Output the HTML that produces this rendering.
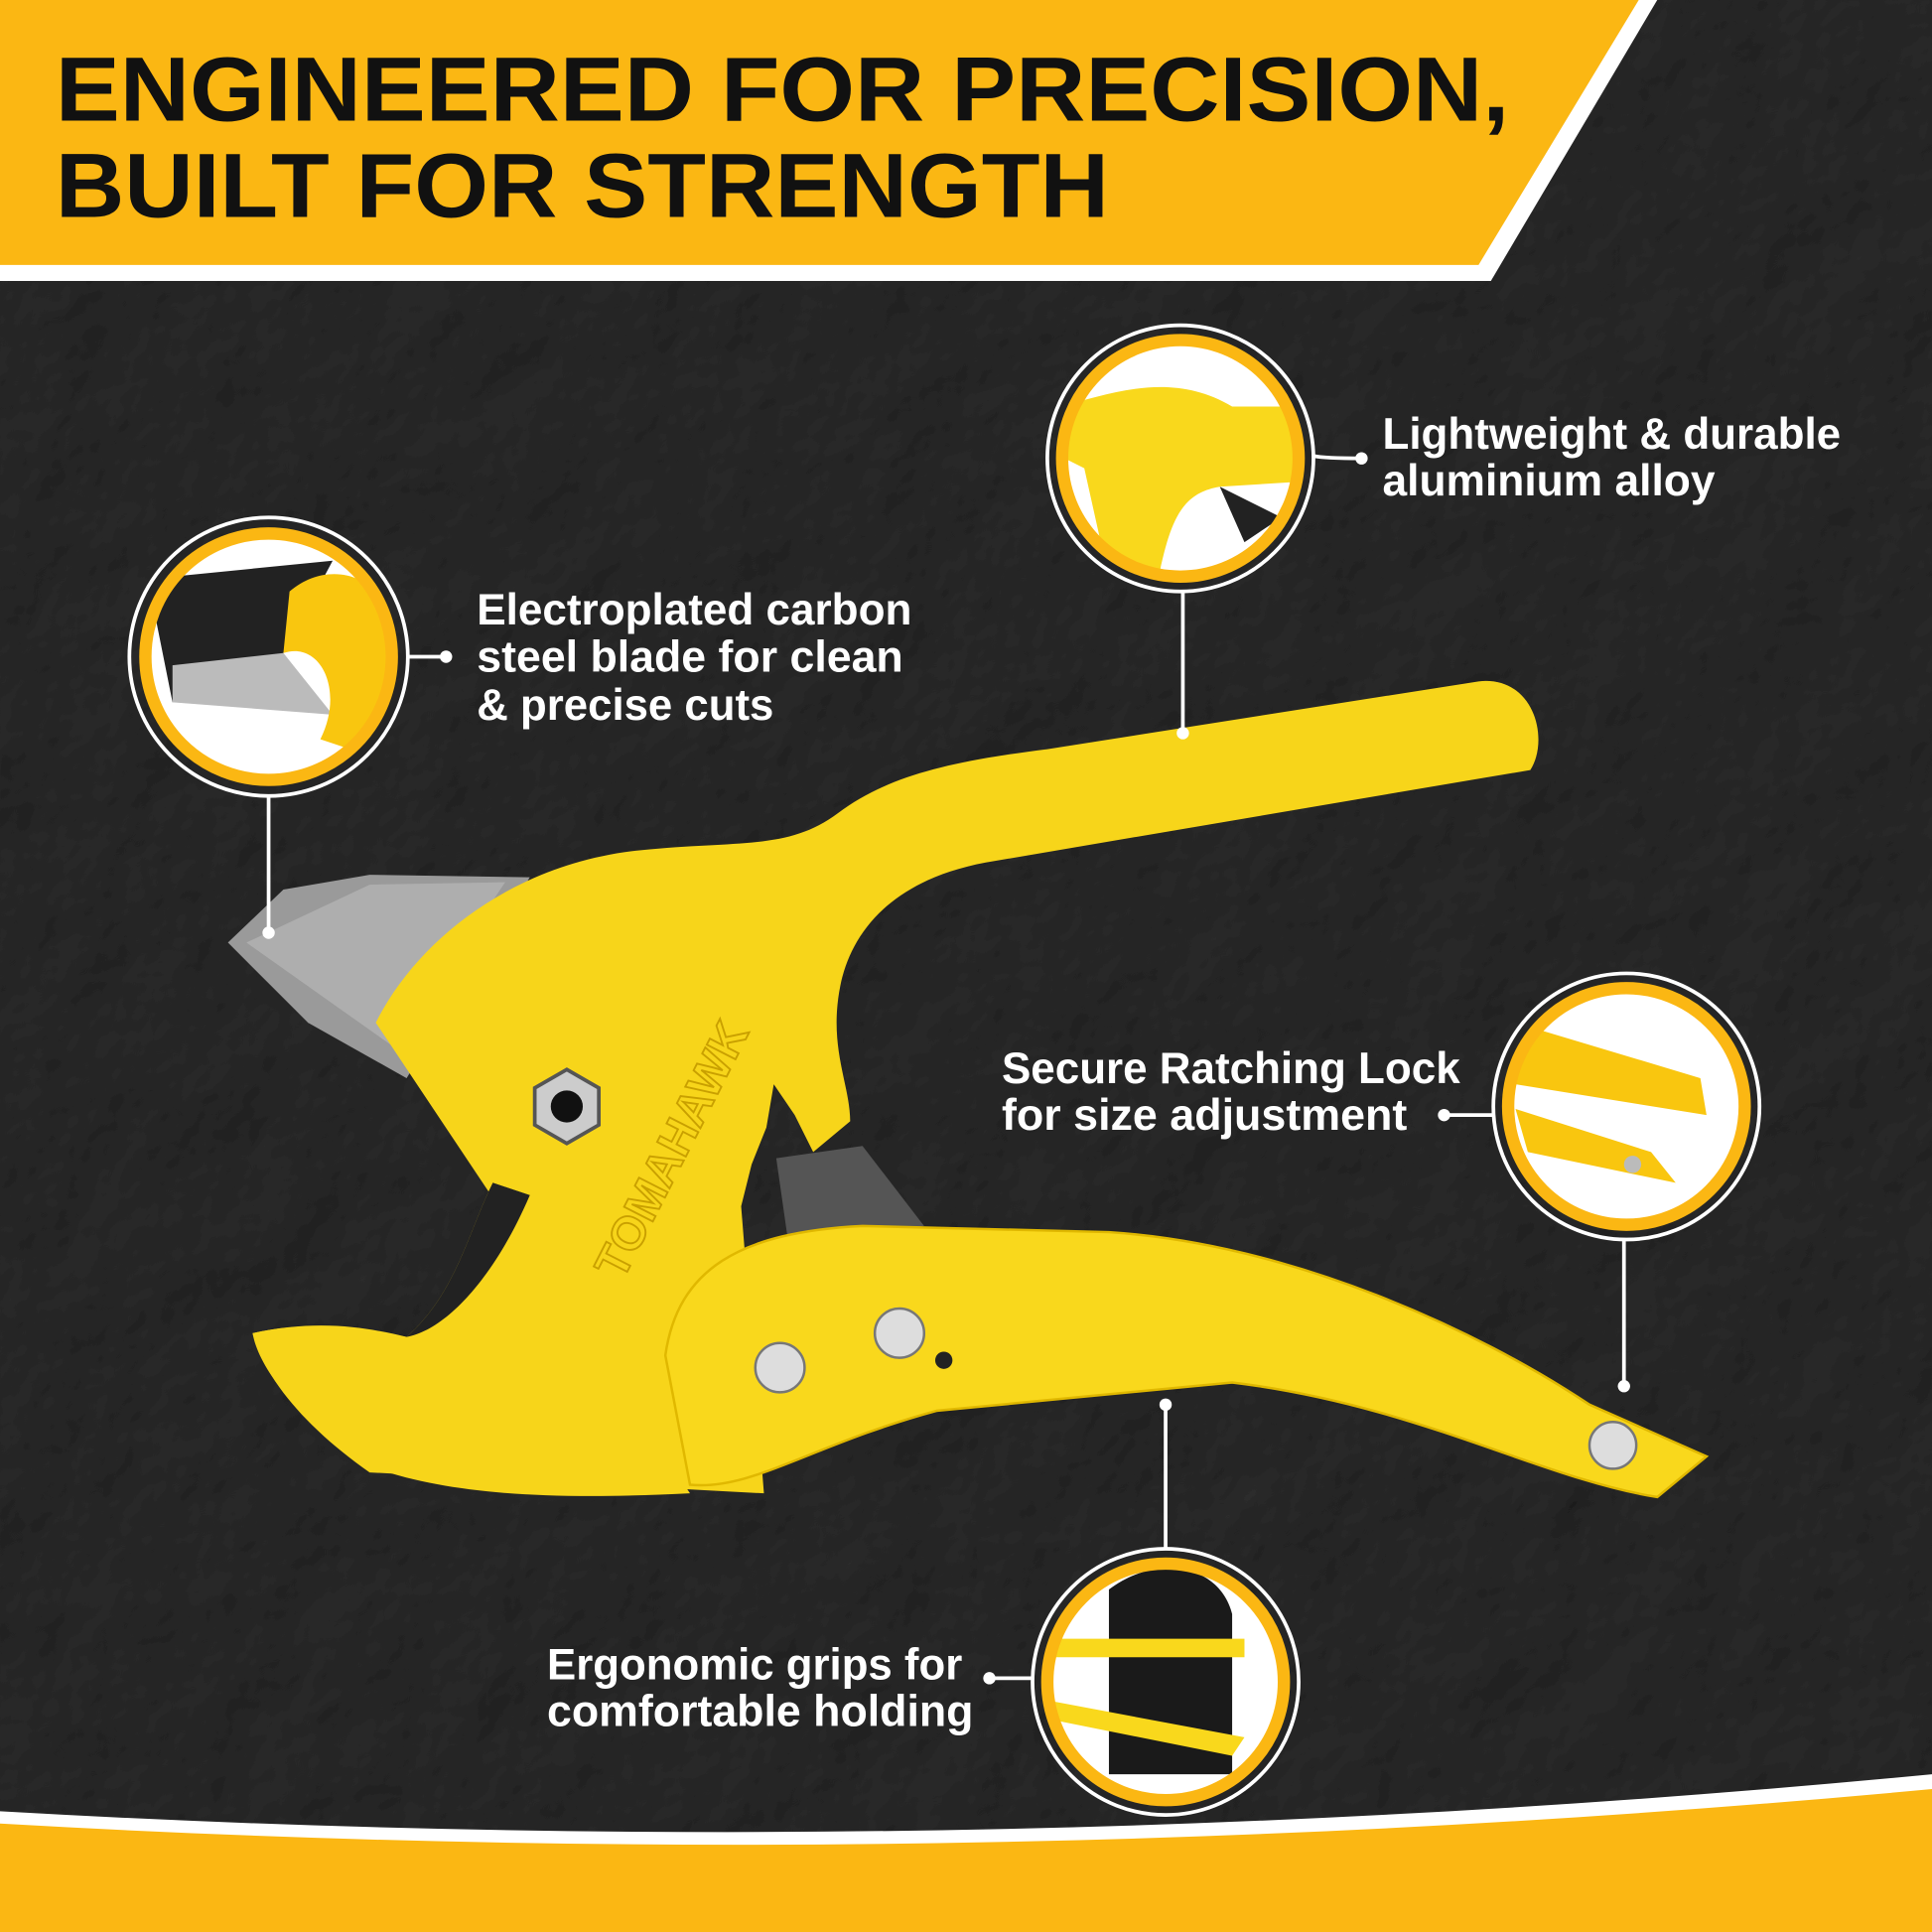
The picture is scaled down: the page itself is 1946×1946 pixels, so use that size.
<!DOCTYPE html>
<html><head><meta charset="utf-8"><style>
html,body{margin:0;padding:0;background:#1c1c1c;}
svg{display:block}
text{font-family:"Liberation Sans",sans-serif;}
</style></head><body>
<svg width="1946" height="1946" viewBox="0 0 1568 1568" xmlns="http://www.w3.org/2000/svg">
<defs>
<filter id="tex" x="0" y="0" width="100%" height="100%">
<feTurbulence type="fractalNoise" baseFrequency="0.012" numOctaves="4" seed="3" result="n"/>
<feDiffuseLighting in="n" lighting-color="#363636" surfaceScale="4" result="l"><feDistantLight azimuth="225" elevation="35"/></feDiffuseLighting>
<feComposite in="l" in2="SourceGraphic" operator="in"/>
</filter>
<clipPath id="c1"><circle cx="218" cy="533" r="96"/></clipPath>
<clipPath id="c2"><circle cx="958" cy="372" r="96"/></clipPath>
<clipPath id="c3"><circle cx="1320" cy="898" r="96"/></clipPath>
<clipPath id="c4"><circle cx="946" cy="1365" r="96"/></clipPath>
</defs>
<rect width="1568" height="1568" fill="#161616"/>
<rect width="1568" height="1568" fill="#000" filter="url(#tex)" opacity="0.95"/>
<!-- bottom band -->
<path d="M0,1470 Q784,1515 1568,1440 L1568,1568 L0,1568 Z" fill="#fff"/>
<path d="M0,1480 Q784,1525 1568,1452 L1568,1568 L0,1568 Z" fill="#fbb713"/>
<!-- top banner -->
<path d="M0,0 L1345,0 L1210,228 L0,228 Z" fill="#fff"/>
<path d="M0,0 L1330,0 L1200,215 L0,215 Z" fill="#fbb713"/>
<text x="45" y="98" font-size="74" font-weight="900" fill="#111" textLength="1180" lengthAdjust="spacingAndGlyphs">ENGINEERED FOR PRECISION,</text>
<text x="45" y="176" font-size="74" font-weight="900" fill="#111" textLength="855" lengthAdjust="spacingAndGlyphs">BUILT FOR STRENGTH</text>

<!-- tool -->
<polygon points="185,765 230,722 300,710 430,712 330,875 250,830" fill="#9a9a9a"/>
<polygon points="200,765 300,718 410,716 320,850" fill="#bdbdbd" opacity="0.6"/>
<path d="M630,940 L700,930 L750,995 L640,1010 Z" fill="#555"/>
<path d="M305,830 C340,760 420,700 520,690 C600,682 640,690 680,660 C720,630 770,618 850,608 L1200,553 C1245,548 1258,600 1242,625 L1200,632 L800,700 C720,715 690,760 682,800 C672,850 690,880 690,910 L660,935 L645,905 L628,880 L622,915 L610,945 L600,985 L560,1000 L520,1040 C480,1050 440,1050 420,1030 C400,1010 410,990 430,970 L400,960 C380,1000 370,1050 330,1085 C300,1080 260,1070 205,1082 C210,1110 240,1150 300,1190 C360,1212 440,1218 560,1212 Z" fill="#f7d51a"/>
<path d="M330,1085 C370,1075 395,1040 405,990 L600,960 L620,1212 L300,1195 C250,1160 215,1120 205,1082 C260,1070 300,1078 330,1085 Z" fill="#f7d51a"/>
<path d="M400,960 C380,1000 370,1050 330,1085 C360,1080 400,1040 430,970 Z" fill="#222"/>
<path d="M540,1100 C550,1030 600,1000 700,995 L900,1000 C1050,1010 1200,1080 1290,1140 L1385,1182 L1345,1215 C1250,1200 1150,1140 1000,1122 L760,1145 C660,1172 610,1210 560,1205 Z" fill="#f9d81c" stroke="#e0b800" stroke-width="2"/>
<g fill="#ddd" stroke="#777" stroke-width="2">
<circle cx="633" cy="1110" r="20"/><circle cx="730" cy="1082" r="20"/><circle cx="1309" cy="1173" r="19"/>
</g>
<circle cx="766" cy="1104" r="7" fill="#222"/>
<polygon points="460,868 486,883 486,913 460,928 434,913 434,883" fill="#ccc" stroke="#555" stroke-width="3"/>
<circle cx="460" cy="898" r="13" fill="#111"/>
<text x="0" y="0" font-size="38" font-weight="900" fill="#f7d51a" stroke="#c9a000" stroke-width="1.5" transform="translate(505,1040) rotate(-63)">TOMAHAWK</text>

<!-- circles -->
<g fill="none" stroke="#fff" stroke-width="3">
<circle cx="218" cy="533" r="113"/><circle cx="958" cy="372" r="108"/><circle cx="1320" cy="898" r="108"/><circle cx="946" cy="1365" r="108"/>
<path d="M331,533 L362,533"/><path d="M218,646 L218,757"/>
<path d="M1066,370 Q1075,372 1105,372"/><path d="M960,480 L960,595"/>
<path d="M1212,905 L1172,905"/><path d="M1318,1006 L1318,1125"/>
<path d="M838,1362 L803,1362"/><path d="M946,1257 L946,1140"/>
</g>
<g fill="#fff"><circle cx="362" cy="533" r="5"/><circle cx="218" cy="757" r="5"/><circle cx="1105" cy="372" r="5"/><circle cx="960" cy="595" r="5"/><circle cx="1172" cy="905" r="5"/><circle cx="1318" cy="1125" r="5"/><circle cx="803" cy="1362" r="5"/><circle cx="946" cy="1140" r="5"/></g>

<g clip-path="url(#c1)"><rect x="110" y="430" width="220" height="220" fill="#fff"/>
<polygon points="120,470 270,455 230,530 140,570" fill="#222"/><polygon points="140,540 230,530 270,580 140,570" fill="#bbb"/>
<path d="M235,480 C270,450 320,470 320,520 L320,620 L260,600 C280,560 260,520 230,530 Z" fill="#f9c60f"/></g>
<circle cx="218" cy="533" r="100" fill="none" stroke="#fbb713" stroke-width="10"/>
<g clip-path="url(#c2)"><rect x="850" y="270" width="220" height="220" fill="#fff"/>
<path d="M860,330 C900,320 950,300 1000,330 L1070,330 L1070,390 L990,395 C960,400 950,420 940,470 L900,470 L880,380 L860,370 Z" fill="#f9d81c"/>
<path d="M990,395 L1010,440 L1040,420 Z" fill="#222"/></g>
<circle cx="958" cy="372" r="96" fill="none" stroke="#fbb713" stroke-width="10"/>
<g clip-path="url(#c3)"><rect x="1210" y="790" width="220" height="220" fill="#fff"/>
<path d="M1230,830 L1380,875 L1385,905 L1230,880 Z" fill="#f9c60f"/>
<path d="M1230,900 L1340,935 L1360,960 L1240,935 Z" fill="#f9c60f"/>
<circle cx="1325" cy="945" r="7" fill="#bbb"/></g>
<circle cx="1320" cy="898" r="96" fill="none" stroke="#fbb713" stroke-width="10"/>
<g clip-path="url(#c4)"><rect x="838" y="1257" width="220" height="220" fill="#fff"/>
<path d="M900,1290 C940,1260 990,1270 1000,1310 L1000,1440 L900,1440 Z" fill="#1a1a1a"/>
<path d="M850,1330 L1010,1330 L1010,1345 L850,1345 Z" fill="#f9d81c"/>
<path d="M850,1380 L1010,1410 L1000,1425 L850,1395 Z" fill="#f9d81c"/></g>
<circle cx="946" cy="1365" r="96" fill="none" stroke="#fbb713" stroke-width="10"/>

<!-- labels -->
<g fill="#fff" font-size="36" font-weight="bold">
<text x="387" y="507" textLength="353" lengthAdjust="spacingAndGlyphs">Electroplated carbon</text>
<text x="387" y="545" textLength="346" lengthAdjust="spacingAndGlyphs">steel blade for clean</text>
<text x="387" y="584" textLength="241" lengthAdjust="spacingAndGlyphs">&amp; precise cuts</text>
<text x="1122" y="364" textLength="372" lengthAdjust="spacingAndGlyphs">Lightweight &amp; durable</text>
<text x="1122" y="402" textLength="270" lengthAdjust="spacingAndGlyphs">aluminium alloy</text>
<text x="813" y="879" textLength="372" lengthAdjust="spacingAndGlyphs">Secure Ratching Lock</text>
<text x="813" y="917" textLength="329" lengthAdjust="spacingAndGlyphs">for size adjustment</text>
<text x="444" y="1363" textLength="337" lengthAdjust="spacingAndGlyphs">Ergonomic grips for</text>
<text x="444" y="1401" textLength="346" lengthAdjust="spacingAndGlyphs">comfortable holding</text>
</g>
</svg>
</body></html>
